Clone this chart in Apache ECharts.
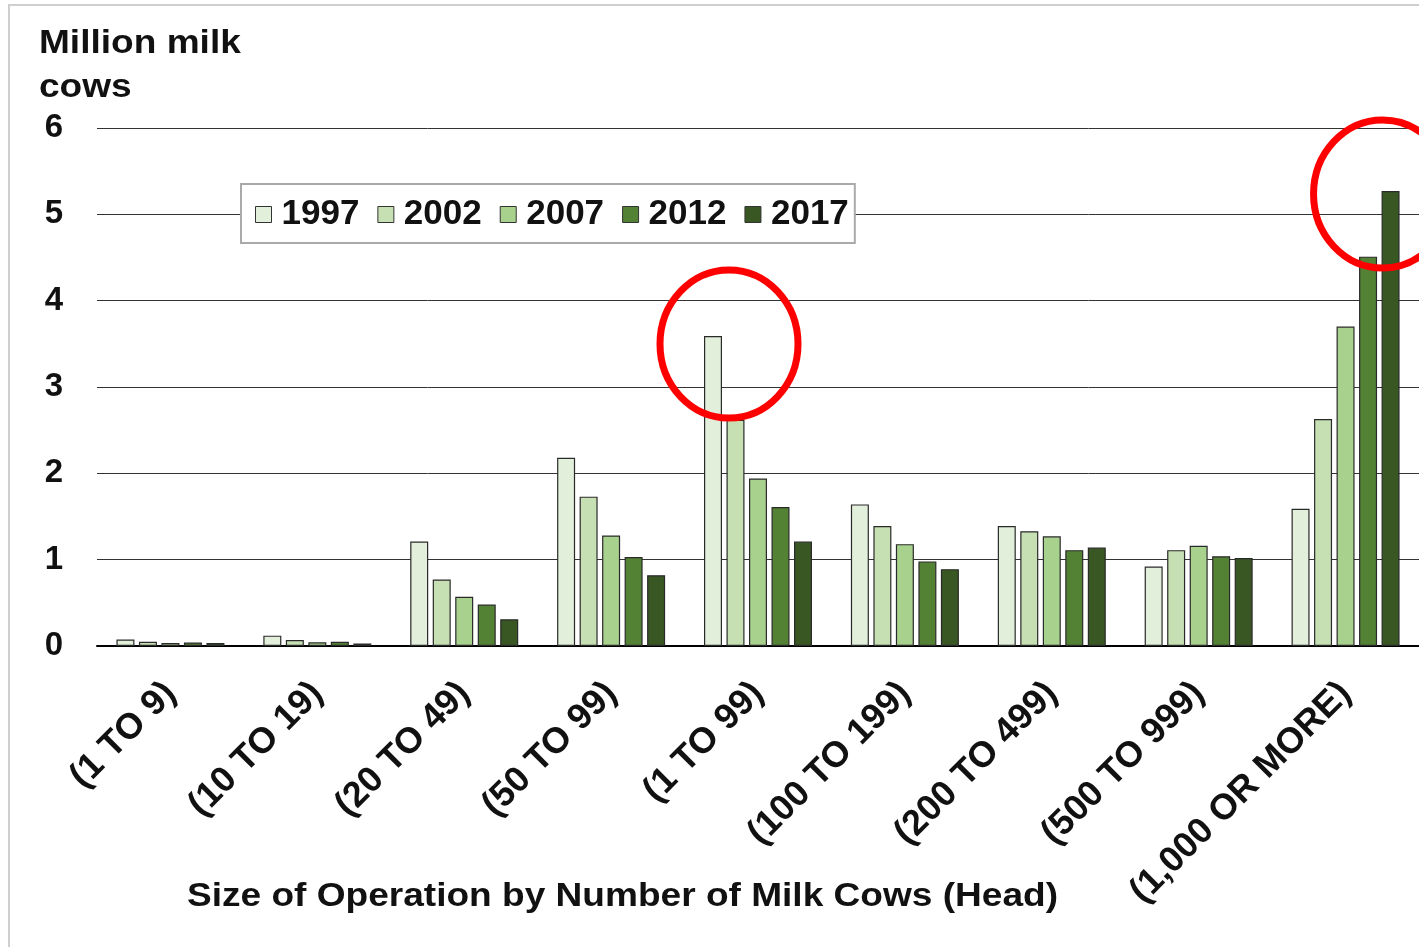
<!DOCTYPE html>
<html>
<head>
<meta charset="utf-8">
<script src="https://cdn.jsdelivr.net/npm/echarts@6/dist/echarts.min.js"></script>
<style>
  html, body { margin: 0; padding: 0; background: #ffffff; }
  #chart { width: 1419px; height: 947px; }
</style>
</head>
<body>
<div id="chart"></div>
<script>
// Milk cow inventory by size of operation (million head), census years
const categories = ['(1 TO 9)', '(10 TO 19)', '(20 TO 49)', '(50 TO 99)', '(1 TO 99)',
  '(100 TO 199)', '(200 TO 499)', '(500 TO 999)', '(1,000 OR MORE)'];
const years = ['1997', '2002', '2007', '2012', '2017'];
const values1997 = [0.074, 0.12, 1.21, 2.18, 3.59, 1.64, 1.39, 0.92, 1.59];
const values2002 = [0.05, 0.07, 0.77, 1.73, 2.62, 1.39, 1.33, 1.11, 2.63];
const values2007 = [0.035, 0.043, 0.57, 1.28, 1.94, 1.18, 1.27, 1.16, 3.70];
const values2012 = [0.04, 0.05, 0.48, 1.03, 1.61, 0.98, 1.11, 1.04, 4.51];
const values2017 = [0.035, 0.028, 0.31, 0.82, 1.21, 0.89, 1.14, 1.02, 5.27];
const yTicks = [0, 1, 2, 3, 4, 5, 6];

const seriesValues = [values1997, values2002, values2007, values2012, values2017];
const colors = ['#E2EFDA', '#C6E0B4', '#A9D18E', '#548235', '#385723'];
const FONT = '"Liberation Sans", Arial, sans-serif';

const chart = echarts.init(document.getElementById('chart'));

chart.setOption({
  animation: false,
  backgroundColor: '#ffffff',
  legend: {
    data: years,
    left: 241, top: 184,
    orient: 'horizontal',
    itemWidth: 16, itemHeight: 16, itemGap: 18,
    padding: [13, 6, 11, 14],
    backgroundColor: '#ffffff',
    borderColor: '#aaaaaa', borderWidth: 2,
    icon: 'rect',
    itemStyle: { borderColor: '#333', borderWidth: 1 },
    textStyle: { fontFamily: FONT, fontWeight: 'bold', fontSize: 35, color: '#111', padding: [0, 0, 0, 5] }
  },
  grid: { left: 97, right: -1, top: 128, bottom: 301, containLabel: false },
  xAxis: {
    type: 'category',
    data: categories,
    axisLine: { show: true, lineStyle: { color: '#000', width: 2 } },
    axisTick: { show: false },
    axisLabel: {
      interval: 0, rotate: 45, margin: 42,
      fontFamily: FONT, fontWeight: 'bold', fontSize: 36, color: '#111'
    }
  },
  yAxis: {
    type: 'value',
    min: yTicks[0], max: yTicks[yTicks.length - 1], interval: 1,
    axisLine: { show: false },
    axisTick: { show: false },
    splitLine: { lineStyle: { color: '#333', width: 1 } },
    axisLabel: { margin: 34, fontFamily: FONT, fontWeight: 'bold', fontSize: 33, color: '#111' }
  },
  series: years.map((y, i) => ({
    name: y,
    type: 'bar',
    data: seriesValues[i],
    barWidth: 18,
    barGap: '25%',
    itemStyle: { color: colors[i], borderColor: '#2a2a2a', borderWidth: 1.2 }
  }))
});

// Highlight rings: one around the peak of the 1997 "1 TO 99" bar,
// one around the 2017 bar of the largest operations.
function ringAt(catIndex, value, dx, dy) {
  const p = chart.convertToPixel({ gridIndex: 0 }, [catIndex, value]);
  return {
    type: 'ellipse',
    shape: { cx: p[0] + dx, cy: p[1] + dy, rx: 69, ry: 74 },
    style: { fill: 'none', stroke: '#FF0000', lineWidth: 7 },
    z: 100
  };
}

chart.setOption({
  graphic: [
    {
      type: 'rect',
      shape: { x: 9, y: 5, width: 1500, height: 1100 },
      style: { fill: 'none', stroke: '#cfcfcf', lineWidth: 2 },
      silent: true, z: 100
    },
    // value-axis name, set slightly wide
    {
      type: 'text', x: 39, y: 22, scaleX: 1.09,
      style: {
        text: 'Million milk\ncows',
        font: 'bold 34px ' + FONT, lineHeight: 44, fill: '#111'
      },
      z: 100
    },
    // category-axis name
    {
      type: 'text', x: 187, y: 880, scaleX: 1.09,
      style: {
        text: 'Size of Operation by Number of Milk Cows (Head)',
        font: 'bold 34px ' + FONT, fill: '#111'
      },
      z: 100
    },
    ringAt(4, values1997[4], -29, 8),
    ringAt(8, values2017[8], 37, 3)
  ]
});
</script>
</body>
</html>
